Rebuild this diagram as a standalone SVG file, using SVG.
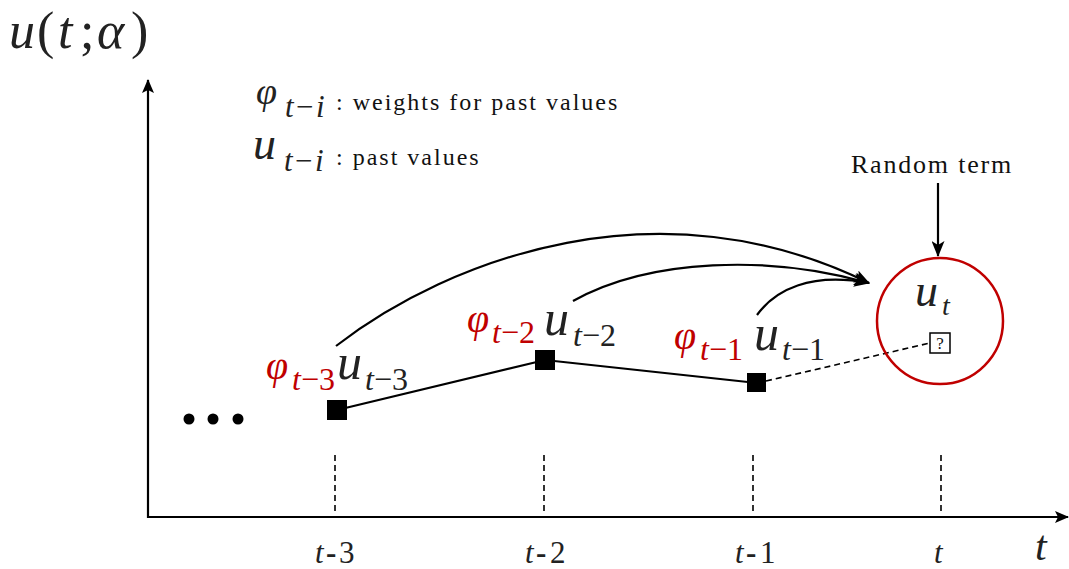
<svg xmlns="http://www.w3.org/2000/svg" width="1069" height="569" viewBox="0 0 1069 569">
<style>
.math{font-family:"Liberation Serif","DejaVu Serif",serif;font-style:italic;fill:#222}
.up{font-style:normal}
.red{fill:#c00000}
.txt{font-family:"Liberation Serif","DejaVu Serif",serif;fill:#111}
.ln{stroke:#000;stroke-width:2.2;fill:none}
.dash{stroke:#000;stroke-width:1.6;stroke-dasharray:6,4;fill:none}
.sq{fill:#000}
</style>
<defs>
<marker id="ah" markerWidth="14" markerHeight="12" refX="13" refY="6" orient="auto" markerUnits="userSpaceOnUse" viewBox="0 0 14 12">
<path d="M0,0 L14,6 L0,12 L3,6 Z" fill="#000"/>
</marker>
<marker id="ah2" markerWidth="16" markerHeight="13" refX="15" refY="6.5" orient="auto" markerUnits="userSpaceOnUse" viewBox="0 0 16 13">
<path d="M0,0 L16,6.5 L0,13 L4,6.5 Z" fill="#000"/>
</marker>
</defs>

<g id="axes">
<line x1="148" y1="518" x2="148" y2="80" stroke="#000" stroke-width="2.2" marker-end="url(#ah)"/>
<line x1="147" y1="517" x2="1068" y2="517" stroke="#000" stroke-width="2.2" marker-end="url(#ah)"/>
<text class="math" font-size="52"><tspan x="9" y="48">u</tspan><tspan x="37" y="48" class="up">(</tspan><tspan x="58" y="48">t</tspan><tspan x="80" y="48" class="up">;</tspan><tspan x="97" y="48">α</tspan><tspan x="131" y="48" class="up">)</tspan></text>
<text x="1035" y="560" class="math" font-size="42">t</text>
</g>

<g id="ticks">
<line x1="335" y1="455" x2="335" y2="512" class="dash"/>
<line x1="544" y1="455" x2="544" y2="512" class="dash"/>
<line x1="753" y1="455" x2="753" y2="512" class="dash"/>
<line x1="941" y1="455" x2="941" y2="512" class="dash"/>
<text class="math" font-size="31"><tspan x="315" y="563">t</tspan><tspan x="326" y="563" class="up" font-weight="bold">-</tspan><tspan x="339" y="563" class="up">3</tspan></text>
<text class="math" font-size="31"><tspan x="525" y="563">t</tspan><tspan x="536" y="563" class="up" font-weight="bold">-</tspan><tspan x="550" y="563" class="up">2</tspan></text>
<text class="math" font-size="31"><tspan x="735" y="563">t</tspan><tspan x="746" y="563" class="up" font-weight="bold">-</tspan><tspan x="760" y="563" class="up">1</tspan></text>
<text x="934" y="563" class="math" font-size="31">t</text>
</g>

<g id="legend">
<text class="math" font-size="38"><tspan x="256" y="104">φ</tspan><tspan x="285" y="117" font-size="31">t</tspan><tspan x="296" y="117" class="up" font-size="31">−</tspan><tspan x="316" y="117" font-size="31">i</tspan></text>
<text x="336" y="110" class="txt" font-size="24" letter-spacing="2">: weights for past values</text>
<text class="math" font-size="46"><tspan x="253" y="159">u</tspan><tspan x="284" y="171" font-size="31">t</tspan><tspan x="295" y="171" class="up" font-size="31">−</tspan><tspan x="315" y="171" font-size="31">i</tspan></text>
<text x="336" y="165" class="txt" font-size="24" letter-spacing="2">: past values</text>
</g>

<g id="dots">
<circle cx="189" cy="419" r="5.5" fill="#000"/>
<circle cx="213" cy="419" r="5.5" fill="#000"/>
<circle cx="238" cy="419" r="5.5" fill="#000"/>
</g>

<g id="connectors">
<polyline points="337,410 545,360 757,383" class="ln"/>
<line x1="766" y1="381" x2="930" y2="343" class="dash"/>
<path d="M336,346 C450,258 660,180 869,283" class="ln" marker-end="url(#ah2)"/>
<path d="M573,301 C650,258 770,255 869,283" class="ln" marker-end="url(#ah2)"/>
<path d="M757,315 C775,290 810,272 869,283" class="ln" marker-end="url(#ah2)"/>
<line x1="938" y1="183" x2="938" y2="256" class="ln" stroke-width="1.8" marker-end="url(#ah2)"/>
</g>

<g id="n3">
<rect x="327" y="400" width="20" height="20" class="sq"/>
<text class="math red" font-size="40"><tspan x="266" y="379">φ</tspan><tspan x="292" y="390" font-size="32">t</tspan><tspan class="up" font-size="32">−3</tspan></text>
<text class="math" font-size="50"><tspan x="337" y="379">u</tspan><tspan x="365" y="390" font-size="32">t</tspan><tspan class="up" font-size="32">−3</tspan></text>
</g>

<g id="n2">
<rect x="535" y="350" width="20" height="20" class="sq"/>
<text class="math red" font-size="40"><tspan x="467" y="332">φ</tspan><tspan x="492" y="343" font-size="32">t</tspan><tspan class="up" font-size="32">−2</tspan></text>
<text class="math" font-size="50"><tspan x="544" y="335">u</tspan><tspan x="573" y="346" font-size="32">t</tspan><tspan class="up" font-size="32">−2</tspan></text>
</g>

<g id="n1">
<rect x="747" y="373" width="19" height="19" class="sq"/>
<text class="math red" font-size="40"><tspan x="674" y="349">φ</tspan><tspan x="700" y="360" font-size="32">t</tspan><tspan class="up" font-size="32">−1</tspan></text>
<text class="math" font-size="50"><tspan x="754" y="350">u</tspan><tspan x="782" y="360" font-size="32">t</tspan><tspan class="up" font-size="32">−1</tspan></text>
</g>

<g id="ut">
<circle cx="940" cy="321" r="63" fill="none" stroke="#c00000" stroke-width="2.5"/>
<text class="math" font-size="46"><tspan x="915" y="306">u</tspan><tspan x="942" y="315" font-size="28">t</tspan></text>
<rect x="930" y="333" width="20" height="20" fill="#fff" stroke="#000" stroke-width="1.5"/>
<text x="940" y="349" class="txt" font-size="17" text-anchor="middle">?</text>
<text x="932" y="173" class="txt" font-size="26" letter-spacing="1.8" text-anchor="middle">Random term</text>
</g>
</svg>
